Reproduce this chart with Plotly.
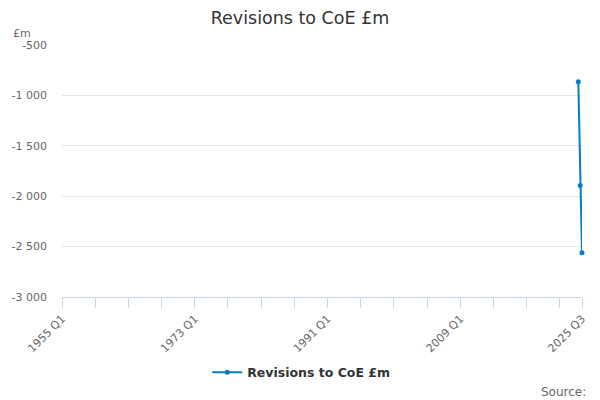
import plotly.graph_objects as go

# Categories: quarters 1955 Q1 .. 2025 Q3
quarters = [f"{y} Q{q}" for y in range(1955, 2026) for q in range(1, 5)]
quarters = quarters[:quarters.index("2025 Q3") + 1]

# Series values (only the last three quarters have data)
data_quarters = ["2025 Q1", "2025 Q2", "2025 Q3"]
data_values = [-865, -1895, -2560]

values = [None] * len(quarters)
for q, v in zip(data_quarters, data_values):
    values[quarters.index(q)] = v

labelled_ticks = ["1955 Q1", "1973 Q1", "1991 Q1", "2009 Q1", "2025 Q3"]
tick_step = 18
y_ticks = [-500, -1000, -1500, -2000, -2500, -3000]
y_tick_text = ["-500", "-1 000", "-1 500", "-2 000", "-2 500", "-3 000"]

tickvals = quarters[::tick_step] + [quarters[-1]]
ticktext = [q if q in labelled_ticks else "" for q in tickvals]

font = "DejaVu Sans, Lucida Grande, sans-serif"
color = "#0a7cc1"

fig = go.Figure()
fig.add_trace(go.Scatter(
    x=quarters, y=values, mode="lines+markers",
    name="Revisions to CoE £m",
    line=dict(color=color, width=2),
    marker=dict(color=color, size=5),
    connectgaps=False,
    cliponaxis=False,
))

fig.update_layout(
    width=600, height=400,
    margin=dict(l=61, r=17, t=45, b=103),
    paper_bgcolor="white", plot_bgcolor="white",
    font=dict(family=font, color="#666666", size=11),
    title=dict(text="Revisions to CoE £m", x=0.5, xanchor="center",
               y=0.955, yanchor="middle",
               font=dict(size=17.5, color="#333333", family=font)),
    showlegend=True,
    legend=dict(orientation="h", x=0.46, xanchor="center", y=-0.30, yanchor="middle",
                font=dict(size=12.5, color="#333333", family=font, weight="bold"),
                itemwidth=30),
    xaxis=dict(type="category", categoryorder="array", categoryarray=quarters,
               range=[0, len(quarters) - 1],
               tickmode="array", tickvals=tickvals, ticktext=ticktext,
               tickangle=-45, ticks="outside", ticklen=10, tickcolor="#ccd6eb",
               showline=True, linecolor="#ccd6eb", linewidth=1,
               showgrid=False, zeroline=False,
               tickfont=dict(size=11, color="#666666")),
    yaxis=dict(range=[-3000, -500], tickmode="array", tickvals=y_ticks, ticktext=y_tick_text,
               showgrid=True, gridcolor="#e6e6e6", zeroline=False, showline=False,
               ticks="", ticklabelstandoff=14, tickfont=dict(size=11, color="#666666")),
    annotations=[
        dict(text="£m", xref="paper", yref="paper", x=0, xshift=-51, y=1.0, yshift=12,
             xanchor="left", yanchor="middle", showarrow=False,
             font=dict(size=11, color="#666666")),
        dict(text="Source:", xref="paper", yref="paper", x=1.0, xshift=6, y=-0.375,
             xanchor="right", yanchor="middle", showarrow=False,
             font=dict(size=12, color="#666666")),
    ],
)

fig.write_html("out.html", config={"displayModeBar": False},
               post_script="document.body.style.margin='0px';")
